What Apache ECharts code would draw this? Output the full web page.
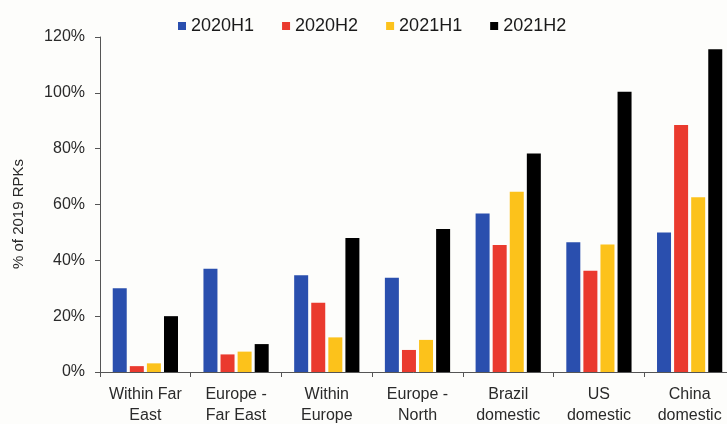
<!DOCTYPE html>
<html>
<head>
<meta charset="utf-8">
<script src="https://cdn.jsdelivr.net/npm/echarts@6/dist/echarts.min.js"></script>
<style>
  html, body { margin: 0; padding: 0; background: #fdfdfb; }
  #chart { width: 727px; height: 424px; }
</style>
</head>
<body>
<div id="chart"></div>
<script>
// Markets (two-line labels)
const categories = [
  'Within Far\nEast', 'Europe -\nFar East', 'Within\nEurope', 'Europe -\nNorth',
  'Brazil\ndomestic', 'US\ndomestic', 'China\ndomestic'
];
const seriesNames = ['2020H1', '2020H2', '2021H1', '2021H2'];
const seriesColors = ['#2a4fae', '#ea3a2e', '#fcc21b', '#000000'];

// Traffic as % of 2019 RPKs
const h1_2020 = [30, 37, 34.7, 33.8, 56.8, 46.5, 50];
const h2_2020 = [2.1, 6.3, 24.8, 7.9, 45.5, 36.3, 88.5];
const h1_2021 = [3.1, 7.3, 12.4, 11.5, 64.6, 45.7, 62.6];
const h2_2021 = [20, 10, 48, 51.2, 78.3, 100.4, 115.6];

const yTicks = [0, 20, 40, 60, 80, 100, 120];
const yTitle = '% of 2019 RPKs';

const values = [h1_2020, h2_2020, h1_2021, h2_2021];

const chart = echarts.init(document.getElementById('chart'));
chart.setOption({
  backgroundColor: '#fdfdfb',
  animation: false,
  legend: {
    top: 12,
    left: 173,
    itemWidth: 8,
    itemHeight: 8,
    itemGap: 28,
    icon: 'rect',
    textStyle: { fontFamily: 'Liberation Sans', fontSize: 18, color: '#1a1a1a' },
    data: seriesNames
  },
  grid: {
    left: 100,
    right: -8,
    top: 37,
    bottom: 52,
    outerBoundsMode: 'none'
  },
  graphic: [{
    type: 'text',
    x: 19,
    y: 214,
    rotation: Math.PI / 2,
    style: {
      text: yTitle,
      fontFamily: 'Liberation Sans',
      fontSize: 15,
      fill: '#2a2a2a',
      align: 'center',
      verticalAlign: 'middle'
    }
  }],
  xAxis: {
    type: 'category',
    data: categories,
    axisLine: { lineStyle: { color: '#555', width: 1 } },
    axisTick: { show: true, length: 5, lineStyle: { color: '#555' } },
    axisLabel: {
      interval: 0,
      margin: 12,
      fontFamily: 'Liberation Sans',
      fontSize: 16,
      lineHeight: 21,
      color: '#2a2a2a'
    }
  },
  yAxis: {
    type: 'value',
    min: yTicks[0],
    max: yTicks[yTicks.length - 1],
    interval: 20,
    splitLine: { show: false },
    axisLine: { show: true, lineStyle: { color: '#555', width: 1 } },
    axisTick: { show: true, length: 5, lineStyle: { color: '#555' } },
    axisLabel: {
      margin: 15,
      fontFamily: 'Liberation Sans',
      fontSize: 16,
      color: '#2a2a2a',
      formatter: v => v + '%'
    }
  },
  series: seriesNames.map((name, i) => ({
    name,
    type: 'bar',
    data: values[i],
    barWidth: 14,
    barGap: '22%',
    itemStyle: { color: seriesColors[i] }
  }))
});
</script>
</body>
</html>
